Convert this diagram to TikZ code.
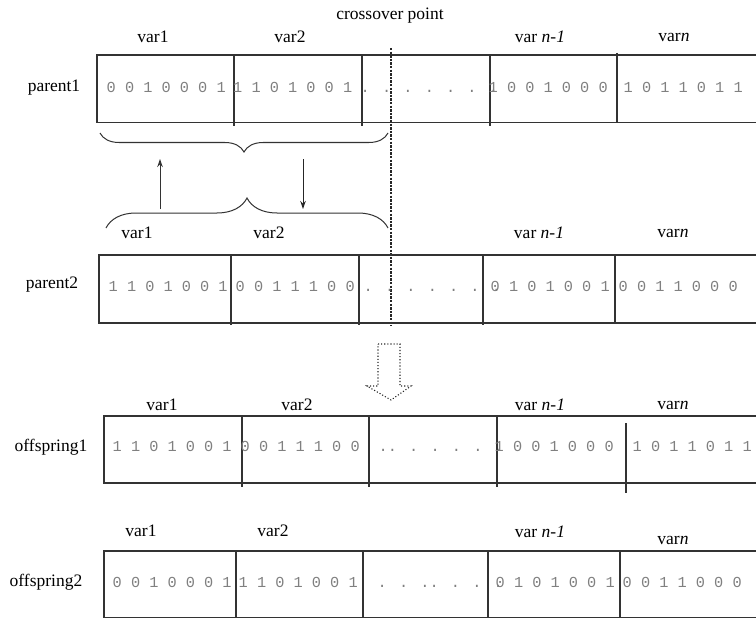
\documentclass[tikz,border=0pt]{standalone}
\usepackage{fontspec}
\setmainfont{Liberation Serif}
\newfontfamily\bitfont{Liberation Mono}
\usetikzlibrary{decorations.pathreplacing,arrows.meta}

\begin{document}
\begin{tikzpicture}[>={Stealth[length=8pt,width=5.5pt]}, x=1pt, y=-1pt,
        lbl/.style={font=\fontsize{17.5}{20}\selectfont, inner sep=0pt},
        bits/.style={font=\bitfont\fontsize{15.25}{18}\selectfont, text=black!50, anchor=west,
            inner sep=0pt, text height=10pt, text depth=0pt},
        cell/.style={draw=black!80, line width=1.2pt}]
        \useasboundingbox (0,0) rectangle (756,618);

        % parent1
        \draw[cell] (756,55) -- (97,55) -- (97,122.5) -- (756,122.5);
        \foreach \x in {234, 362, 490} \draw[cell] (\x,55) -- (\x,126);
        \draw[cell] (617,53) -- (617,122.5);
        \node[lbl] (p1name) at (54,88) {parent1};
        \node[lbl] (p1v1) at (153,37) {var1};
        \node[lbl] (p1v2) at (290,37) {var2};
        \node[lbl] (p1vm) at (540,37) {var \textit{n-1}};
        \node[lbl] (p1vn) at (674,37) {var\textit{n}};
        \node[bits] (p1b1) at (106.5,88) {0 0 1 0 0 0 1};
        \node[bits] (p1b2) at (233,88) {1 1 0 1 0 0 1};
        \node[bits] (p1b3) at (360.5,88) {. . . . . . .};
        \node[bits] (p1b4) at (488.5,88) {1 0 0 1 0 0 0};
        \node[bits] (p1b5) at (623.5,88) {1 0 1 1 0 1 1};

        % crossover point
        \node[lbl] (cross) at (390,16) {crossover point};
        \draw[black!85, line width=2.8pt, dash pattern=on 2.4pt off 1.2pt] (391,48) -- (391,326);

        % swapped part: braces and arrows
        \coordinate (b1l) at (100,133);
        \coordinate (b1r) at (388,133);
        \coordinate (b2l) at (106,228);
        \coordinate (b2r) at (388,228);
        \draw[black!80, line width=1pt, decorate, decoration={brace, amplitude=19pt, aspect=0.5}] (b1r) -- (b1l);
        \draw[black!80, line width=1pt, decorate, decoration={brace, amplitude=30pt, aspect=0.5}] (b2l) -- (b2r);
        \coordinate (upA) at (160,209);
        \coordinate (upB) at (160,159);
        \coordinate (dnA) at (303,159);
        \coordinate (dnB) at (303,209);
        \draw[->, black!80, line width=1pt] (upA) -- (upB);
        \draw[->, black!85, line width=1pt] (dnA) -- (dnB);

        % parent2
        \draw[cell] (756,255) -- (99,255) -- (99,323) -- (756,323);
        \foreach \x in {231, 359, 483} \draw[cell] (\x,255) -- (\x,325);
        \draw[cell] (615,255) -- (615,324);
        \node[lbl] (p2name) at (52,285) {parent2};
        \node[lbl] (p2v1) at (137,233) {var1};
        \node[lbl] (p2v2) at (269,233) {var2};
        \node[lbl] (p2vm) at (539,233) {var \textit{n-1}};
        \node[lbl] (p2vn) at (673,233) {var\textit{n}};
        \node[bits] (p2b1) at (108.5,286) {1 1 0 1 0 0 1};
        \node[bits] (p2b2) at (235.5,286) {0 0 1 1 1 0 0};
        \node[bits] (p2b3) at (363.5,286) {. . . . . . .};
        \node[bits] (p2b4) at (490.5,286) {0 1 0 1 0 0 1};
        \node[bits] (p2b5) at (618.5,286) {0 0 1 1 0 0 0};

        % hollow arrow to the offspring
        \draw[black!85, line width=1.1pt, dotted] (378,344) -- (400,344) -- (400,386) -- (411,386)
            -- (391,400) -- (367,386) -- (378,386) -- cycle;

        % offspring1
        \draw[cell] (756,416) -- (104,416) -- (104,483) -- (756,483);
        \foreach \x in {242, 369, 497} \draw[cell] (\x,416) -- (\x,487);
        \draw[cell] (626,423) -- (626,493);
        \node[lbl] (o1name) at (51,447) {offspring1};
        \node[lbl] (o1v1) at (162,405) {var1};
        \node[lbl] (o1v2) at (297,405) {var2};
        \node[lbl] (o1vm) at (540,405) {var \textit{n-1}};
        \node[lbl] (o1vn) at (673,405) {var\textit{n}};
        \node[bits] (o1b1) at (112.5,446) {1 1 0 1 0 0 1};
        \node[bits] (o1b2) at (240.5,446) {0 0 1 1 1 0 0};
        \node[bits] (o1b3) at (378.5,446) {.. . . . . .};
        \node[bits] (o1b4) at (494.5,446) {1 0 0 1 0 0 0};
        \node[bits] (o1b5) at (632.5,446) {1 0 1 1 0 1 1};

        % offspring2
        \draw[cell] (756,551) -- (104,551) -- (104,617.4) -- (756,617.4);
        \foreach \x in {236, 363, 488, 620} \draw[cell] (\x,551) -- (\x,618);
        \node[lbl] (o2name) at (46,582) {offspring2};
        \node[lbl] (o2v1) at (141,531) {var1};
        \node[lbl] (o2v2) at (273,531) {var2};
        \node[lbl] (o2vm) at (540,532) {var \textit{n-1}};
        \node[lbl] (o2vn) at (673,540) {var\textit{n}};
        \node[bits] (o2b1) at (112.5,582) {0 0 1 0 0 0 1};
        \node[bits] (o2b2) at (238.5,582) {1 1 0 1 0 0 1};
        \node[bits] (o2b3) at (377.5,582) {. . .. . . .};
        \node[bits] (o2b4) at (495.5,582) {0 1 0 1 0 0 1};
        \node[bits] (o2b5) at (622.5,582) {0 0 1 1 0 0 0};
\end{tikzpicture}
\end{document}
